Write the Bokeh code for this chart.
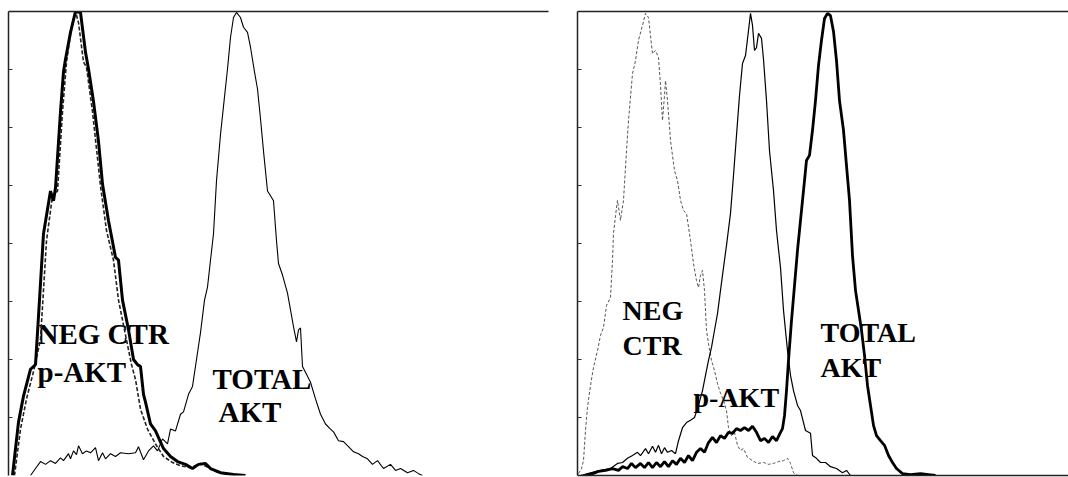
from bokeh.plotting import figure
from bokeh.layouts import row
from bokeh.models import LinearAxis, FixedTicker, Range1d, Grid
from bokeh.core.properties import value
from bokeh.embed import file_html
from bokeh.resources import INLINE

# ---------------- Panel A (left) ----------------
a_neg_x = [4, 10, 15, 22, 27, 29, 35, 42, 45, 47, 52, 55, 57, 62, 67, 72, 77, 80, 85, 90, 94, 100, 107, 110,
           114, 120, 125, 129, 132, 135, 137, 142, 147, 155, 162, 169, 177, 184, 190, 197, 202, 212, 225, 237]
a_neg_y = [0, 11.5, 17.1, 22.9, 23.9, 30.8, 52.1, 61.3, 59.2, 62, 78.4, 87, 89.7, 95.5, 100, 99.8, 91.2, 87.6,
           80.6, 72, 62.8, 54.9, 47, 46.4, 37.8, 31.4, 25, 23.9, 23.5, 17.5, 15.8, 11.1, 9.6, 5.8, 4.1, 3, 2.4,
           1.5, 2.4, 2.6, 1.5, 0.6, 0.2, 0]

a_pakt_x = [6, 12, 18, 25, 32, 38, 44, 49, 54, 58, 63, 67, 70, 75, 78, 84, 92, 98, 105, 110, 117, 123, 127,
            132, 139, 147, 155, 164, 172, 182, 192, 200, 210, 227]
a_pakt_y = [0, 10, 16.5, 22.4, 29.3, 50.6, 60.3, 61.3, 78.4, 89.1, 96.6, 100, 97.6, 89.1, 88, 78.4, 62.4, 52.8,
            46.4, 37.8, 30.3, 23.9, 20.7, 14.3, 10, 6.8, 4.1, 2.8, 2.1, 1.7, 2.6, 1.7, 0.6, 0.2]

a_tot_x = [22, 27, 32, 37, 42, 47, 52, 55, 60, 62, 65, 68, 70, 74, 78, 82, 87, 90, 94, 97, 102, 107, 112, 120,
           127, 130, 135, 140, 145, 149, 154, 159, 162, 167, 172, 175, 180, 184, 188, 192, 196, 199, 202, 205,
           208, 212, 216, 219, 222, 225, 228, 232, 235, 239, 242, 246, 249, 252, 255, 259, 262, 265, 268, 270,
           274, 279, 282, 285, 288, 290, 292, 294, 298, 302, 307, 312, 317, 322, 325, 330, 335, 340, 345, 350,
           354, 359, 364, 369, 375, 382, 387, 392, 399, 405, 410, 414]
a_tot_y = [0, 1.5, 3, 2.4, 3.2, 2.6, 3.8, 3.2, 4.7, 3.6, 5.3, 4.5, 6.4, 4.7, 5.3, 4.9, 6, 3.2, 4.9, 3.6, 4.7,
           4.1, 4.9, 4.7, 4.9, 6.2, 3.4, 5.3, 6.4, 5.3, 7.9, 6.8, 10, 9.6, 13.2, 13.7, 17.5, 19.2, 25, 30.8,
           37.8, 40.6, 46.4, 52.1, 63.5, 73.5, 81.6, 87.6, 94.4, 98.7, 99.8, 98.7, 96.6, 95.5, 92.3, 87, 83.3,
           76.9, 69.9, 61.3, 60.3, 59.2, 50.6, 45.7, 43.2, 39.3, 35.7, 32.1, 28.8, 31.4, 31.8, 23.5, 21.8, 20.1,
           16.5, 13.2, 11.1, 10, 9.4, 7.5, 7.3, 6.2, 5.1, 4.7, 4.1, 3.6, 2.4, 3.2, 1.5, 2.4, 1.1, 1.5, 0.6, 1.1,
           0.4, 0]

a_labels = ["NEG CTR", "p-AKT", "TOTAL", "AKT"]
a_label_x = [29, 29, 204, 210]
a_label_y = [30.6, 22.2, 20.7, 13.7]

# ---------------- Panel B (right) ----------------
b_neg_x = [1, 4, 6, 8, 10, 13, 16, 20, 23, 26, 29, 33, 35, 36, 38, 40, 43, 46, 49, 51, 55, 58, 61, 65, 68, 71,
           73, 75, 78, 81, 83, 85, 87, 88, 90, 93, 97, 100, 103, 106, 109, 113, 116, 119, 121, 123, 125, 127,
           129, 131, 134, 137, 140, 143, 146, 149, 151, 154, 157, 160, 163, 166, 170, 175, 180, 186, 191, 196,
           201, 206, 210, 213, 216, 220]
b_neg_y = [0.4, 1.5, 3.2, 9.7, 14.7, 19.4, 23.3, 26.9, 30.2, 31.9, 36.6, 38.4, 46.3, 52.2, 56, 59.3, 55, 59.3,
           70, 76.5, 86.6, 89.4, 93.8, 97, 99.6, 98.7, 94.8, 90.9, 91.6, 90.1, 84.1, 76.5, 81.9, 85.1, 80.8,
           72.2, 65.7, 63.6, 59.3, 57.1, 56.5, 50.6, 45.7, 42, 40.5, 43.1, 44.2, 39.9, 31.3, 28.4, 24.8, 22.6,
           19.8, 17.7, 16.2, 14, 10.3, 8.6, 9.3, 6.5, 5.4, 5.8, 3.9, 3.2, 2.6, 2.8, 2.4, 2.6, 3, 3.2, 3.7, 2.6,
           0.6, 0]

b_pakt_x = [3, 13, 23, 33, 40, 45, 50, 55, 60, 63, 68, 71, 75, 78, 81, 84, 87, 90, 94, 98, 101, 105, 109, 113,
            117, 121, 125, 128, 131, 134, 137, 140, 143, 146, 149, 153, 156, 159, 162, 165, 168, 171, 173, 175,
            177, 179, 181, 184, 186, 189, 192, 196, 199, 203, 206, 210, 213, 216, 220, 223, 228, 233, 235, 239,
            243, 248, 253, 259, 265, 269, 273]
b_pakt_y = [0, 0.6, 1.1, 1.5, 2.6, 2.8, 3.7, 4.3, 5, 4.3, 5.8, 4.7, 6.3, 5, 6.5, 4.7, 6, 5, 5.4, 4.7, 7.5, 10.3,
            11.4, 11.9, 12.5, 15.1, 18.3, 21.6, 24.8, 27.6, 31.3, 34.9, 39.9, 44.8, 49.6, 56.5, 64.7, 73.3,
            81.9, 88.8, 90.5, 95.9, 99.6, 97, 91.6, 92.2, 95.3, 94.2, 89.7, 80.8, 70, 61.4, 52.8, 44.8, 35.6,
            26.9, 21.6, 18.3, 15.1, 14, 9.7, 9.1, 4.3, 3.7, 2.8, 2.8, 1.9, 1.5, 0.6, 1.1, 0]

b_tot_x = [8, 15, 21, 28, 35, 41, 45, 50, 54, 58, 63, 67, 71, 75, 79, 83, 87, 91, 95, 99, 103, 107, 111, 115,
           119, 123, 127, 131, 135, 139, 143, 147, 151, 155, 159, 163, 167, 171, 175, 179, 183, 187, 191, 195,
           199, 203, 205, 207, 209, 211, 214, 217, 220, 223, 226, 229, 232, 235, 238, 241, 244, 247, 250, 253,
           256, 259, 262, 266, 269, 272, 275, 278, 281, 284, 287, 290, 293, 296, 299, 303, 307, 311, 315, 319,
           325, 333, 343, 351, 358]
b_tot_y = [0, 0.4, 0.9, 1.1, 1.5, 1.1, 1.9, 1.5, 2.6, 1.7, 2.6, 1.7, 2.8, 1.7, 2.8, 1.9, 3, 1.9, 3.2, 2.4, 3.7,
           2.8, 4.3, 3.2, 5, 5.8, 5, 7.1, 8.2, 7.1, 8.6, 8, 9.3, 9.1, 10.1, 9.7, 10.3, 9.7, 10.6, 9.3, 7.5, 8,
           7.1, 8.4, 7.5, 9.3, 10.1, 12.9, 18.3, 24.8, 33.4, 40.9, 48.5, 55, 61.4, 67.9, 69, 74.4, 80.8, 88.4,
           93.8, 98.5, 99.6, 99.1, 95.7, 89.4, 80.8, 74.4, 66.8, 59.3, 47.4, 39.9, 35.6, 31.3, 25.9, 19.4, 15.1,
           10.8, 8.6, 7.5, 6.5, 4.3, 2.8, 1.5, 0.4, 0.2, 0.4, 0.2, 0]

b_labels = ["NEG", "CTR", "TOTAL", "AKT", "p-AKT"]
b_label_x = [45, 45, 243, 243, 116]
b_label_y = [35.6, 28.0, 30.8, 23.3, 16.8]

tick_vals = [12.5, 25, 37.5, 50, 62.5, 75, 87.5]

FONT = value("Liberation Serif")


def frame_axis(p, side, ticks):
    ax = LinearAxis(ticker=FixedTicker(ticks=ticks))
    ax.major_label_overrides = {t: "" for t in ticks}
    ax.major_label_text_font_size = "1px"
    ax.major_label_standoff = 0
    ax.major_tick_out = 0
    ax.major_tick_in = 4 if ticks else 0
    ax.minor_tick_in = 0
    ax.minor_tick_out = 0
    ax.axis_line_color = "#222222"
    ax.axis_line_width = 1.5
    ax.major_tick_line_color = "#333333"
    ax.major_tick_line_width = 1
    p.add_layout(ax, side)


def make_fig(width, left, top, bottom, right, xmax):
    p = figure(width=width, height=477, output_backend="svg", toolbar_location=None,
               x_axis_location=None, y_axis_location=None,
               x_range=Range1d(0, xmax), y_range=Range1d(0, 100),
               min_border_left=left, min_border_top=top, min_border_bottom=bottom,
               min_border_right=right, outline_line_color=None,
               background_fill_color="white", border_fill_color="white")
    p.outline_line_alpha = 0
    for r in list(p.center):
        if isinstance(r, Grid):
            r.visible = False
    p.center = [r for r in p.center if not isinstance(r, Grid)]
    return p


# Left panel
p1 = make_fig(560, 8, 9, 0, 12, 540)
frame_axis(p1, "left", tick_vals)
frame_axis(p1, "above", [])
p1.text(x=a_label_x, y=a_label_y, text=a_labels, text_font=FONT, text_font_style="bold",
        text_font_size="29px", text_baseline="alphabetic", text_align="left", text_color="black")
p1.line(a_tot_x, a_tot_y, line_color="black", line_width=1.1)
p1.line(a_pakt_x, a_pakt_y, line_color="#222222", line_width=1.6, line_dash="4 2")
p1.line(a_neg_x, a_neg_y, line_color="black", line_width=3)

# Right panel
p2 = make_fig(508, 17, 11, 2, 0, 491)
frame_axis(p2, "left", tick_vals)
frame_axis(p2, "above", [])
frame_axis(p2, "below", [])
p2.text(x=b_label_x, y=b_label_y, text=b_labels, text_font=FONT, text_font_style="bold",
        text_font_size="28px", text_baseline="alphabetic", text_align="left", text_color="black")
p2.line(b_neg_x, b_neg_y, line_color="#555555", line_width=1, line_dash="3 2")
p2.line(b_pakt_x, b_pakt_y, line_color="black", line_width=1.2)
p2.line(b_tot_x, b_tot_y, line_color="black", line_width=2.8)

layout = row(p1, p2)
open("out.html", "w").write(file_html(layout, INLINE))
